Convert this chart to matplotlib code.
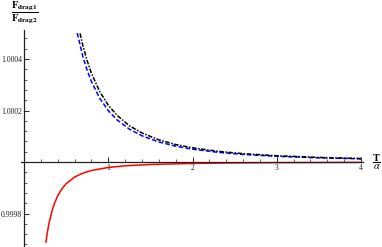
import numpy as np
import matplotlib
matplotlib.use("Agg")
import matplotlib.pyplot as plt
from matplotlib.ticker import FixedLocator, MultipleLocator

plt.rcParams['font.family'] = ['Liberation Serif', 'DejaVu Serif']
plt.rcParams['mathtext.fontset'] = 'stix'

# values (T/alpha, Fdrag1/Fdrag2)
t_black = [0.665, 0.70, 0.75, 0.80, 0.90, 1.00, 1.10, 1.25, 1.40, 1.60, 1.80,
           2.00, 2.30, 2.60, 3.00, 3.50, 4.00]
r_black = [1.000500, 1.000451, 1.000393, 1.000345, 1.000273, 1.000221, 1.000183,
           1.000141, 1.000113, 1.0000863, 1.0000682, 1.0000553, 1.0000418,
           1.0000327, 1.0000246, 1.0000180, 1.0000138]

t_blue = [0.632, 0.70, 0.75, 0.80, 0.90, 1.00, 1.10, 1.25, 1.40, 1.60, 1.80,
          2.00, 2.30, 2.60, 3.00, 3.50, 4.00]
r_blue = [1.000501, 1.000408, 1.000356, 1.000313, 1.000247, 1.000200, 1.000165,
          1.000128, 1.000102, 1.0000781, 1.0000617, 1.0000500, 1.0000378,
          1.0000296, 1.0000222, 1.0000163, 1.0000125]

t_red = [0.26, 0.28, 0.30, 0.33, 0.36, 0.40, 0.45, 0.50, 0.60, 0.70, 0.80,
         1.00, 1.20, 1.50, 2.00, 2.50, 3.00, 4.00]
r_red = [0.999689, 0.999732, 0.999767, 0.999807, 0.999838, 0.999869, 0.999896,
         0.999916, 0.9999417, 0.9999571, 0.9999672, 0.999979, 0.9999854,
         0.9999907, 0.9999947, 0.9999966, 0.9999977, 0.9999987]

y_major = [0.9998, 1.0002, 1.0004]
y_labels = ['0.9998', '1.0002', '1.0004']
x_major = [1, 2, 3, 4]

W, H = 382, 247
fig = plt.figure(figsize=(W / 100, H / 100), dpi=100)
x0, x1 = -0.04, 4.02
y0, y1 = 0.99967, 1.000513
px_per_x = 84.25
left = 24 + x0 * px_per_x
right = 24 + x1 * px_per_x
ax = fig.add_axes([left / W, 0, (right - left) / W, 217 / H])
ax.set_xlim(x0, x1)
ax.set_ylim(y0, y1)

ax.plot(t_red, r_red, color='#ff0000', lw=1.1)
ax.plot(t_blue, r_blue, color='#0000ff', lw=1.1, linestyle=(0, (3, 1.5)))
ax.plot(t_black, r_black, color='black', lw=1.1, linestyle=(0, (3, 1, 1, 1)))

for s in ['top', 'right']:
    ax.spines[s].set_visible(False)
ax.spines['left'].set_position(('data', 0))
ax.spines['bottom'].set_position(('data', 1.0))
for s in ['left', 'bottom']:
    ax.spines[s].set_linewidth(0.9)
    ax.spines[s].set_color('#222222')

ax.xaxis.set_major_locator(FixedLocator(x_major))
ax.xaxis.set_minor_locator(MultipleLocator(0.2))
ax.yaxis.set_major_locator(FixedLocator(y_major))
ax.set_yticklabels(y_labels)
ax.yaxis.set_minor_locator(MultipleLocator(0.00004))
ax.tick_params(which='both', direction='in', colors='#222222', labelsize=5.6, pad=1.5)
ax.tick_params(which='major', length=3.5, width=0.7)
ax.tick_params(which='minor', length=2, width=0.5)

fig.text(25 / W, 1 - 13 / H, r'$\dfrac{\mathbf{F}_{\mathbf{drag1}}}{\mathbf{F}_{\mathbf{drag2}}}$',
         ha='center', va='center', fontsize=7.5)
fig.text(376 / W, 1 - 162.5 / H, r'$\dfrac{\mathbf{T}}{\alpha}$',
         ha='center', va='center', fontsize=7.5)

fig.savefig('out.png', dpi=100)
